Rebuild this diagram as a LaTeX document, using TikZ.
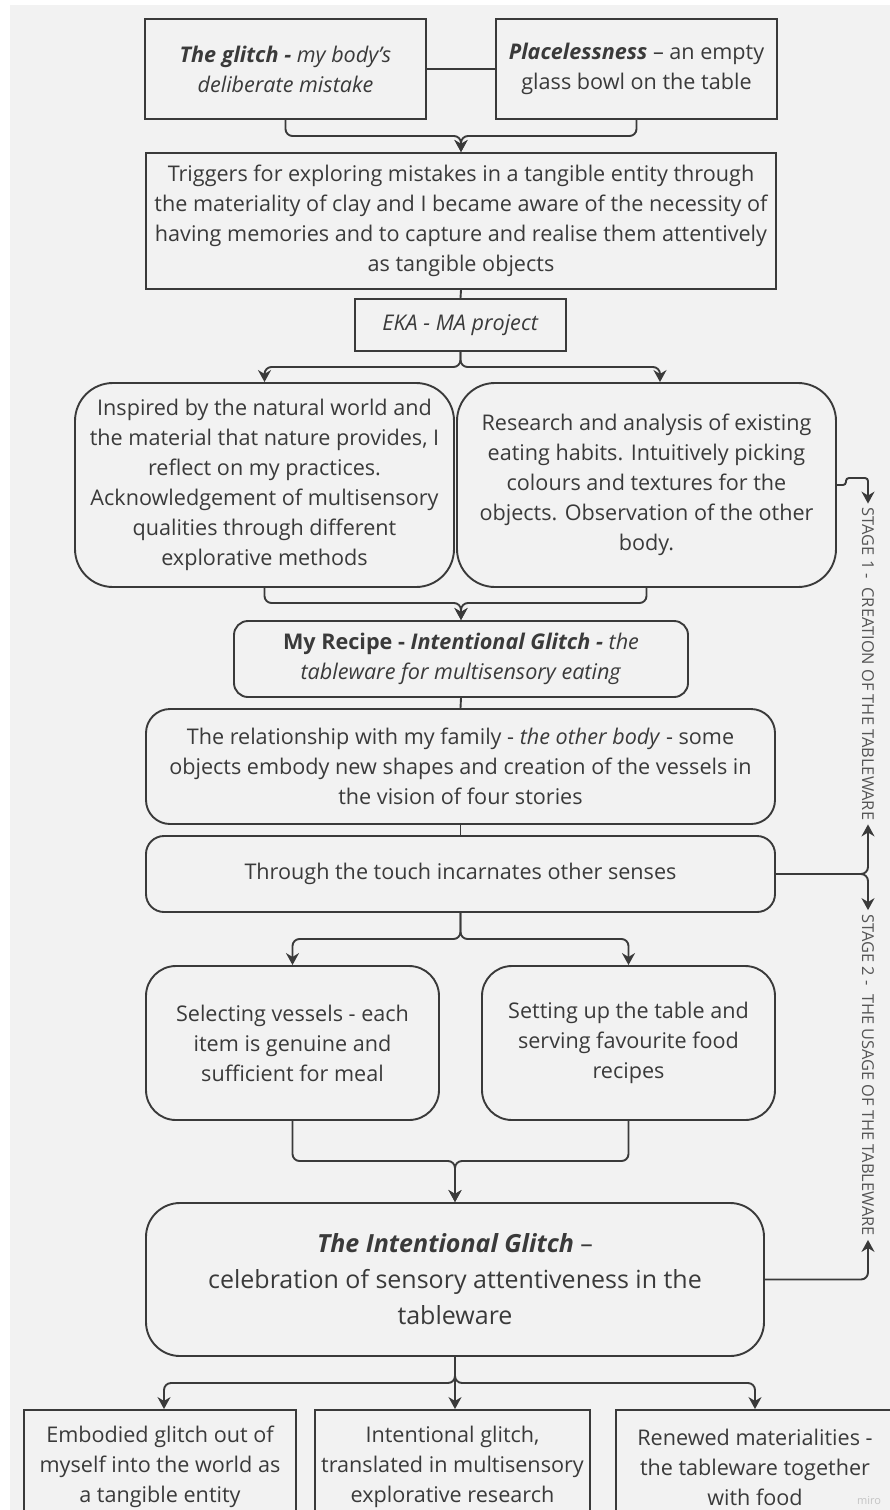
\documentclass[tikz,border=0pt]{standalone}
\usepackage{fontspec}
\setmainfont{Open Sans}
\usepackage{tikz}
\usetikzlibrary{arrows.meta}
\definecolor{ink}{HTML}{3A3A3A}
\definecolor{paper}{HTML}{F2F2F2}
\definecolor{stagegrey}{HTML}{555555}
\definecolor{markgrey}{HTML}{C4C4C4}
\tikzset{
  box/.style={draw=ink, line width=1.9pt, text=ink, align=center, inner sep=0pt,
    font=\fontsize{21.6}{30}\selectfont},
  rbox/.style={box, rounded corners=#1},
  rbox/.default=20pt,
  link/.style={draw=ink, line width=1.9pt, rounded corners=7pt},
  stagelabel/.style={text=stagegrey, font=\fontsize{16.4}{18}\selectfont, rotate=-90, inner sep=4pt},
  >={Stealth[length=12pt,width=13pt]}
}

\begin{document}
\begin{tikzpicture}[x=1pt, y=-1pt]
      \useasboundingbox (0,0) rectangle (890,1510);
      \clip (0,0) rectangle (890,1510);
      \fill[white] (0,0) rectangle (890,1510);
      \fill[paper] (10,5) rectangle (890,1510);

      % top row
      \node[box, minimum width=281, minimum height=100] at (285.5,69) (glitch) {\textbf{\textit{The glitch -}} \textit{my body's}\\\textit{deliberate mistake}};
      \node[box, minimum width=281, minimum height=100] at (636.5,69) (bowl) {\textbf{\textit{Placelessness}} – an empty\\glass bowl on the table};
      \node[box, minimum width=630, minimum height=136] at (461,221) (triggers) {Triggers for exploring mistakes in a tangible entity through\\the materiality of clay and I became aware of the necessity of\\having memories and to capture and realise them attentively\\as tangible objects};
      \node[box, minimum width=211, minimum height=52] at (460.5,325) (eka) {\textit{EKA - MA project}};

      % stage 1
      \node[rbox=38pt, minimum width=379, minimum height=204] at (264.5,485) (nature) {Inspired by the natural world and\\the material that nature provides, I\\reflect on my practices.\\Acknowledgement of multisensory\\qualities through different\\explorative methods};
      \node[rbox=38pt, minimum width=379, minimum height=204] at (646.5,485) (research) {Research and analysis of existing\\eating habits. Intuitively picking\\colours and textures for the\\objects. Observation of the other\\body.};
      \node[rbox=14pt, minimum width=454, minimum height=76] at (461,659) (recipe) {\textbf{My Recipe - \textit{Intentional Glitch -}} \textit{the}\\\textit{tableware for multisensory eating}};
      \node[rbox=24pt, minimum width=629, minimum height=115] at (460.5,766.5) (family) {The relationship with my family - \textit{the other body} - some\\objects embody new shapes and creation of the vessels in\\the vision of four stories};
      \node[rbox=18pt, minimum width=629, minimum height=76] at (460.5,874) (touch) {Through the touch incarnates other senses};

      % stage 2
      \node[rbox=30pt, minimum width=293, minimum height=154] at (292.5,1043) (vessels) {Selecting vessels - each\\item is genuine and\\sufficient for meal};
      \node[rbox=30pt, minimum width=293, minimum height=154] at (628.5,1043) (table) {Setting up the table and\\serving favourite food\\recipes};
      \node[rbox=34pt, minimum width=618, minimum height=153, font=\fontsize{25}{36}\selectfont] at (455,1279.5) (celebration) {\textbf{\textit{The Intentional Glitch}} –\\celebration of sensory attentiveness in the\\tableware};

      % outcomes
      \node[box, minimum width=272, minimum height=114] at (160,1467) (embodied) {Embodied glitch out of\\myself into the world as\\a tangible entity};
      \node[box, minimum width=275, minimum height=114] at (452.5,1467) (translated) {Intentional glitch,\\translated in multisensory\\explorative research};
      \node[box, minimum width=278, minimum height=114] at (755,1467) (renewed) {Renewed materialities -\\the tableware together\\with food};

      \node[stagelabel] at (868,664) (stage1) {STAGE 1 - \ CREATION OF THE TABLEWARE};
      \node[stagelabel] at (868,1075) (stage2) {STAGE 2 - \ THE USAGE OF THE TABLEWARE};
      \node[text=markgrey, font=\fontsize{11}{12}\selectfont] at (869,1500) (miro) {miro};

      % connectors
      \draw[link] (glitch) -- (bowl);
      \coordinate (join1) at (461,136);
      \draw[link, ->] (glitch.south) |- (join1) -- (triggers.north);
      \draw[link, ->] (bowl.south) |- (join1) -- (triggers.north);
      \draw[link] (triggers.south) -- (eka.north);
      \coordinate (split1) at (460.5,367);
      \draw[link, ->] (eka.south) -- (split1) -| (nature.north);
      \draw[link, ->] (eka.south) -- (split1) -| ([xshift=13.5pt]research.north);
      \coordinate (join2) at (461,603);
      \draw[link, ->] (nature.south) |- (join2) -- (recipe.north);
      \draw[link, ->] (research.south) |- (join2) -- (recipe.north);
      \draw[link] (recipe.south) -- (family.north);
      \draw[link] (family.south) -- (touch.north);
      \coordinate (split2) at (460.5,939);
      \draw[link, ->] (touch.south) -- (split2) -| (vessels.north);
      \draw[link, ->] (touch.south) -- (split2) -| (table.north);
      \coordinate (join3) at (455,1161);
      \draw[link, ->] (vessels.south) |- (join3) -- (celebration.north);
      \draw[link, ->] (table.south) |- (join3) -- (celebration.north);
      \coordinate (split3) at (455,1383);
      \draw[link, ->] (celebration.south) -- (split3) -| ([xshift=4pt]embodied.north);
      \draw[link, ->] (celebration.south) -- (split3 |- translated.north);
      \draw[link, ->] (celebration.south) -- (split3) -| (renewed.north);

      % stage arrows
      \draw[link, ->, rounded corners=3pt] (research.east) -- ++(9,0) -- ++(0,-7) -| (stage1.west);
      \draw[link, ->] (touch.east) -| (stage1.east);
      \draw[link, ->] (touch.east) -| (stage2.west);
      \draw[link, ->] (celebration.east) -| (stage2.east);
\end{tikzpicture}
\end{document}
